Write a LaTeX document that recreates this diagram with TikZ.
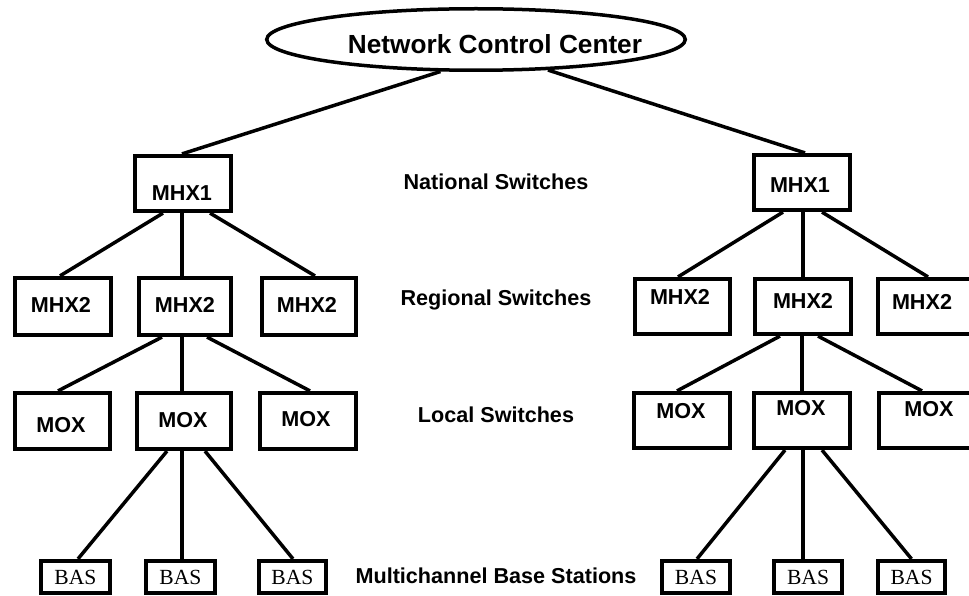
\documentclass[tikz,border=0pt]{standalone}
\usepackage{fontspec}
\setmainfont{Liberation Serif}
\setsansfont{Liberation Sans}
\usetikzlibrary{shapes.geometric,calc}
\begin{document}
\begin{tikzpicture}[x=1pt,y=-1pt,
  sw/.style={draw, line width=3.7pt, inner sep=0pt, minimum width=96.5pt, minimum height=55.5pt},
  bas/.style={draw, line width=3.7pt, inner sep=0pt, minimum width=68.5pt, minimum height=32.5pt,
    font=\rmfamily\fontsize{21.6}{24}\selectfont, text depth=0pt},
  txt/.style={inner sep=0pt, text depth=0pt, font=\sffamily\bfseries\fontsize{21.6}{24}\selectfont},
  big/.style={inner sep=0pt, text depth=0pt, font=\sffamily\bfseries\fontsize{26.2}{30}\selectfont},
  oval/.style={draw, ellipse, line width=3.5pt, inner sep=0pt, minimum width=418.5pt, minimum height=61.5pt},
  link/.style={line width=3.5pt}]
\useasboundingbox (0,0) rectangle (969,596);

% top
\node[oval] (ncc) at (476,39.5) {};
\node[big] (ncct) at (495,44) {Network Control Center};

% level labels
\node[txt] (labN) at (496,182) {National Switches};
\node[txt] (labR) at (496,298) {Regional Switches};
\node[txt] (labL) at (496,415) {Local Switches};
\node[txt] (labB) at (496,576) {Multichannel Base Stations};

% left tree
\node[sw] (L1) at (183,183.5) {};
\node[txt] (L1t) at (182,193) {MHX1};
\node[sw, minimum height=57.5pt] (LA) at (63,306.5) {};
\node[txt] (LAt) at (61,305) {MHX2};
\node[sw, minimum width=92.5pt, minimum height=57.5pt] (LB) at (185,306.5) {};
\node[txt] (LBt) at (185,305) {MHX2};
\node[sw, minimum width=94.5pt, minimum height=57.5pt] (LC) at (309,306.5) {};
\node[txt] (LCt) at (307,305) {MHX2};
\node[sw, minimum width=95.5pt, minimum height=56.5pt] (LMA) at (62.5,421) {};
\node[txt] (LMAt) at (61,425) {MOX};
\node[sw, minimum width=94.5pt, minimum height=56.5pt] (LMB) at (184,421) {};
\node[txt] (LMBt) at (183,420) {MOX};
\node[sw, minimum width=96.5pt, minimum height=56.5pt] (LMC) at (308,421) {};
\node[txt] (LMCt) at (306,419) {MOX};
\node[bas, minimum width=69.5pt] (LBA) at (75.5,577) {BAS};
\node[bas, minimum width=69.5pt] (LBB) at (180.5,577) {BAS};
\node[bas, minimum width=67.5pt] (LBC) at (292.5,577) {BAS};

% right tree
\node[sw] (R1) at (802,182.5) {};
\node[txt] (R1t) at (800,185) {MHX1};
\node[sw, minimum width=95.5pt] (RA) at (682.5,306.5) {};
\node[txt] (RAt) at (680,297) {MHX2};
\node[sw] (RB) at (803,306.5) {};
\node[txt] (RBt) at (803,301) {MHX2};
\node[sw] (RC) at (926.5,306.5) {};
\node[txt] (RCt) at (922,302) {MHX2};
\node[sw] (RMA) at (682,420.5) {};
\node[txt] (RMAt) at (681,411) {MOX};
\node[sw] (RMB) at (802,420.5) {};
\node[txt] (RMBt) at (801,408) {MOX};
\node[sw] (RMC) at (927,420.5) {};
\node[txt] (RMCt) at (929,409) {MOX};
\node[bas] (RBA) at (696,577) {BAS};
\node[bas] (RBB) at (808,577) {BAS};
\node[bas, minimum width=67.5pt] (RBC) at (911.5,577) {BAS};

% connectors: center to national
\draw[link] (ncc.222.7) -- ($(L1.north)+(-1,0)$);
\draw[link] (ncc.337) -- ($(R1.north)+(3,0)$);

% left national to regional
\draw[link] ($(L1.south)+(-20,0)$) -- ($(LA.north)+(-3,0)$);
\draw[link] ($(L1.south)+(-1,0)$) -- ($(LB.north)+(-3,0)$);
\draw[link] ($(L1.south)+(27,0)$) -- ($(LC.north)+(6,0)$);
% right national to regional
\draw[link] ($(R1.south)+(-19,0)$) -- ($(RA.north)+(-4.5,0)$);
\draw[link] ($(R1.south)+(1,0)$) -- (RB.north);
\draw[link] ($(R1.south)+(20,0)$) -- ($(RC.north)+(1.5,0)$);

% left regional to local
\draw[link] ($(LB.south)+(-23,0)$) -- ($(LMA.north)+(-4.5,0)$);
\draw[link] ($(LB.south)+(-3,0)$) -- ($(LMB.north)+(-2,0)$);
\draw[link] ($(LB.south)+(22,0)$) -- ($(LMC.north)+(2,0)$);
% right regional to local
\draw[link] ($(RB.south)+(-23,0)$) -- ($(RMA.north)+(-5,0)$);
\draw[link] ($(RB.south)+(-1,0)$) -- (RMB.north);
\draw[link] ($(RB.south)+(15,0)$) -- ($(RMC.north)+(-5,0)$);

% left local to base stations
\draw[link] ($(LMB.south)+(-17,0)$) -- ($(LBA.north)+(2.5,0)$);
\draw[link] ($(LMB.south)+(-2,0)$) -- ($(LBB.north)+(1.5,0)$);
\draw[link] ($(LMB.south)+(21,0)$) -- ($(LBC.north)+(0.5,0)$);
% right local to base stations
\draw[link] ($(RMB.south)+(-17,0)$) -- ($(RBA.north)+(1,0)$);
\draw[link] ($(RMB.south)+(1,0)$) -- ($(RBB.north)+(-5,0)$);
\draw[link] ($(RMB.south)+(20,0)$) -- (RBC.north);
\end{tikzpicture}
\end{document}
